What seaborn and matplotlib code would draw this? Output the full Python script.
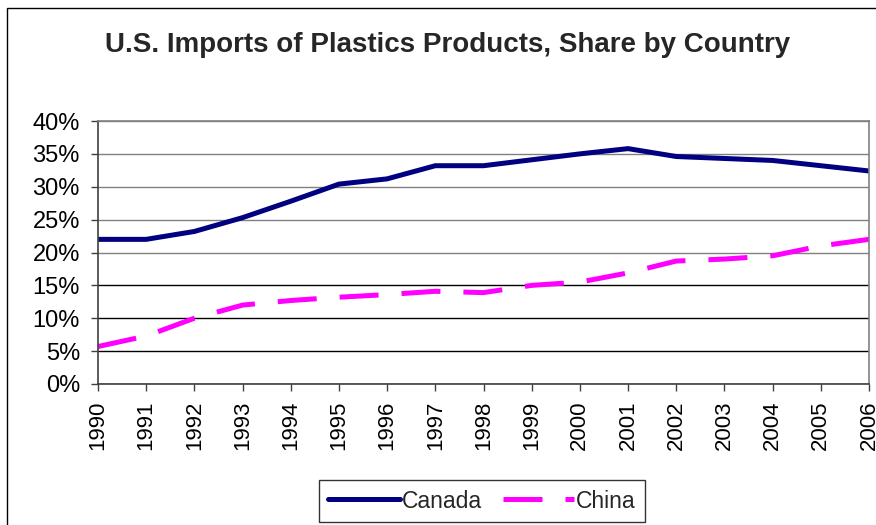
import matplotlib
matplotlib.use("Agg")
import matplotlib.pyplot as plt
import matplotlib.patches as mpatches
import seaborn as sns
import pandas as pd

years = list(range(1990, 2007))
canada = [22.0, 22.0, 23.2, 25.3, 27.8, 30.4, 31.2, 33.2, 33.2, 34.1, 35.0, 35.8,
          34.6, 34.3, 34.0, 33.2, 32.4]
china = [5.7, 7.3, 10.0, 12.0, 12.7, 13.2, 13.6, 14.1, 13.9, 15.0, 15.5, 16.9,
         18.7, 19.0, 19.5, 21.0, 22.0]
yticks = [0, 5, 10, 15, 20, 25, 30, 35, 40]
title = "U.S. Imports of Plastics Products, Share by Country"

df = pd.DataFrame({
    "Year": years * 2,
    "Share": canada + china,
    "Country": ["Canada"] * len(years) + ["China"] * len(years),
})

sns.set_theme(style="white")
plt.rcParams["font.family"] = ["Liberation Sans", "DejaVu Sans"]

fig = plt.figure(figsize=(8.76, 5.25), dpi=100)
ax = fig.add_axes([98 / 876, 1 - 384 / 525, (869 - 98) / 876, (384 - 121) / 525])

LW = 3.6
sns.lineplot(data=df, x="Year", y="Share", hue="Country", style="Country",
             palette={"Canada": "#000080", "China": "#FF00FF"},
             dashes={"Canada": "", "China": (7.8, 4.6)},
             linewidth=LW, ax=ax, legend=True)

ax.set_xlim(1990, 2006)
ax.set_ylim(0, 40)
ax.set_xticks(years)
ax.set_xticklabels([str(y) for y in years], rotation=90, fontsize=16)
ax.set_yticks(yticks)
ax.set_yticklabels([f"{v}%" for v in yticks], fontsize=17)
ax.set_xlabel("")
ax.set_ylabel("")

ax.grid(axis="y", linewidth=1.0)
ax.grid(axis="x", visible=False)
for val, gl in zip(yticks, ax.get_ygridlines()):
    gl.set_color("#808080" if val >= 20 else "#000000")

ax.tick_params(axis="x", direction="out", length=5, width=1, color="#404040",
               pad=7, bottom=True, labelcolor="black")
ax.tick_params(axis="y", direction="out", length=5, width=1, color="#404040",
               pad=8, left=True, labelcolor="black")
for side in ["top", "right"]:
    ax.spines[side].set_visible(True)
    ax.spines[side].set_color("#808080")
    ax.spines[side].set_linewidth(1.2)
for side in ["left", "bottom"]:
    ax.spines[side].set_color("#404040")
    ax.spines[side].set_linewidth(1.2)

handles, labels = ax.get_legend_handles_labels()
ax.get_legend().remove()
leg = fig.legend(handles, labels, loc="center", ncol=2,
                 bbox_to_anchor=(482 / 876, 1 - 501 / 525),
                 fontsize=16.5, frameon=True, fancybox=False,
                 handlelength=3.1, handletextpad=0.1, columnspacing=0.9,
                 borderpad=0.4, borderaxespad=0)
leg.get_frame().set_edgecolor("black")
leg.get_frame().set_linewidth(1.0)
for h in leg.get_lines():
    h.set_linewidth(LW)

fig.text(448 / 876, 1 - 45 / 525, title, ha="center", va="center",
         fontsize=20, fontweight="bold")

border = mpatches.Rectangle((7 / 876, -0.1), 1.2, 1 - 8 / 525 + 0.1,
                            transform=fig.transFigure, fill=False,
                            edgecolor="black", linewidth=1.0)
fig.patches.append(border)

fig.savefig("out.png", dpi=100, facecolor="white")
